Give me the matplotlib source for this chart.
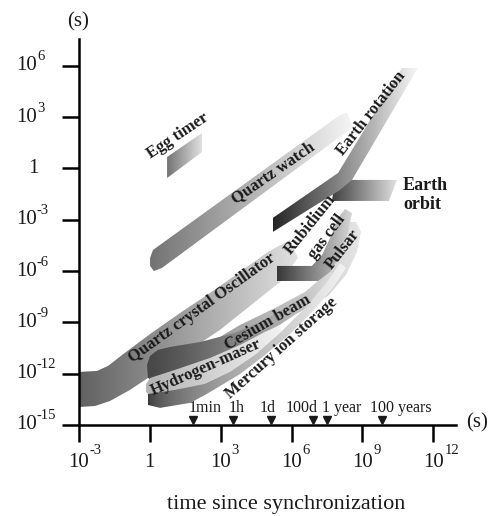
import numpy as np
import matplotlib.pyplot as plt
from matplotlib.patches import Polygon

plt.rcParams['font.family'] = ['Liberation Serif', 'DejaVu Serif']

# axis ticks, log10 of seconds
x_ticks = [-3, 0, 3, 6, 9, 12]
y_ticks = [-15, -12, -9, -6, -3, 0, 3, 6]

# time marks on the x axis (log10 s)
event_names = ['1min', '1h', '1d', '100d', '1 year', '100 years']
event_pos = [1.83, 3.52, 5.13, 6.91, 7.50, 9.83]
event_label_x = [1.66, 3.35, 4.66, 5.76, 7.29, 9.32]

# outlines of each clock region: (log10 time, log10 time error)
egg_timer = [(0.73, 0.67), (2.21, 2.08), (2.21, 0.96), (0.73, -0.56)]
quartz_watch = [(0.01, -5.23), (0.13, -4.77), (0.43, -4.47), (8.05, 3.13), (8.35, 3.25),
                (8.60, 2.43), (8.39, 2.20), (0.51, -5.82), (0.17, -6.0), (0.01, -5.70)]
earth_rotation = [(5.21, -2.89), (7.97, -0.26), (10.67, 5.88), (11.35, 5.88),
                  (8.56, -0.67), (8.05, -1.26), (5.21, -3.71)]
earth_orbit = [(7.84, -0.67), (10.46, -0.67), (10.12, -1.90), (7.71, -1.90)]
quartz_osc = [(-3.00, -11.90), (-2.24, -11.84), (-1.77, -11.55), (-1.18, -10.91), (0.01, -9.68),
              (1.28, -8.45), (2.55, -7.28), (3.82, -6.05), (5.00, -4.88), (5.93, -4.18),
              (6.27, -5.23), (5.51, -6.64), (4.24, -8.04), (2.97, -9.44), (1.70, -10.61),
              (0.43, -11.78), (-0.84, -12.95), (-1.69, -13.60), (-2.32, -13.89), (-3.00, -13.95)]
pulsar = [(8.39, -3.13), (8.73, -3.13), (8.94, -3.71), (8.77, -4.88), (8.30, -6.23),
          (7.54, -7.46), (6.36, -8.39), (4.87, -9.33), (3.39, -10.15), (2.76, -10.03),
          (3.82, -9.15), (5.30, -8.16), (6.57, -7.22), (7.41, -6.23), (7.92, -5.06), (8.18, -4.06)]
rubidium = [(5.38, -5.70), (6.86, -5.70), (7.29, -5.06), (7.67, -3.95), (7.97, -2.89),
            (8.26, -2.37), (8.56, -2.61), (8.39, -3.71), (8.05, -5.06), (7.63, -6.05),
            (7.12, -6.58), (5.38, -6.58)]
cesium = [(-0.12, -11.49), (0.01, -10.96), (0.34, -10.61), (0.85, -10.44), (2.12, -10.15),
          (3.60, -9.62), (4.87, -8.86), (6.14, -7.81), (7.0, -6.93), (7.63, -6.05),
          (7.88, -6.29), (7.41, -7.11), (6.57, -8.16), (5.30, -9.33), (4.03, -10.32),
          (2.55, -11.32), (1.28, -12.08), (0.34, -12.60), (-0.08, -12.25)]
hydrogen = [(-0.16, -12.60), (0.01, -12.25), (1.06, -11.78), (2.55, -11.08), (3.82, -10.32),
            (4.87, -9.56), (5.51, -9.15), (5.59, -9.68), (4.45, -10.96), (3.39, -11.96),
            (2.33, -12.66), (1.06, -13.01), (0.01, -13.30), (-0.16, -13.07)]
mercury = [(-0.08, -13.19), (1.06, -12.95), (2.33, -12.60), (3.39, -11.90), (4.45, -10.91),
           (5.51, -9.62), (6.57, -8.16), (7.41, -6.81), (8.05, -5.53), (8.30, -5.82),
           (7.75, -6.99), (6.91, -8.33), (5.93, -9.68), (4.83, -10.96), (3.82, -12.02),
           (3.05, -12.66), (2.33, -13.25), (1.70, -13.71), (0.43, -14.0), (-0.08, -13.83)]

band_labels = ['Egg timer', 'Quartz watch', 'Earth rotation', 'Rubidium', 'gas cell', 'Pulsar',
               'Quartz crystal Oscillator', 'Cesium beam', 'Hydrogen-maser', 'Mercury ion storage']
label_xy = [(1.19, 1.90), (5.21, -0.26), (9.36, 3.25), (6.78, -3.30), (7.50, -4.01), (8.18, -4.71),
            (2.21, -8.16), (5.0, -9.04), (2.38, -11.61), (5.55, -10.50)]
label_angle = [33.7, 34.6, 52, 51, 53, 52, 35.7, 29.8, 24, 41.7]


def shade(ax, verts, g0, g1, z, gamma=1.0):
    verts = np.array(verts)
    patch = Polygon(verts, closed=True, facecolor='none', edgecolor='none')
    ax.add_patch(patch)
    t = np.linspace(0, 1, 256) ** gamma
    grad = (g0 + (g1 - g0) * t).reshape(1, -1)
    im = ax.imshow(grad, cmap='gray', vmin=0, vmax=1, aspect='auto', origin='lower',
                   extent=(verts[:, 0].min(), verts[:, 0].max(), verts[:, 1].min(), verts[:, 1].max()),
                   interpolation='bilinear', zorder=z)
    im.set_clip_path(patch)


fig = plt.figure(figsize=(4.93, 5.16), dpi=100)
ax = fig.add_axes([0.1602, 0.1764, 0.7647, 0.748])

# back to front
shade(ax, quartz_osc, 0.38, 0.88, 1)
shade(ax, pulsar, 0.6, 0.9, 2)
shade(ax, rubidium, 0.22, 0.85, 3)
shade(ax, cesium, 0.28, 0.88, 4, gamma=1.2)
shade(ax, hydrogen, 0.7, 0.95, 5)
shade(ax, mercury, 0.22, 0.95, 6, gamma=0.6)
shade(ax, egg_timer, 0.45, 0.88, 7)
shade(ax, quartz_watch, 0.45, 0.96, 8)
shade(ax, earth_orbit, 0.25, 0.88, 9)
shade(ax, earth_rotation, 0.15, 0.97, 10)

ax.set_xlim(-3, 12.96)
ax.set_ylim(-15, 7.57)

for s in ['top', 'right']:
    ax.spines[s].set_visible(False)
for s in ['left', 'bottom']:
    ax.spines[s].set_linewidth(1.8)
    ax.spines[s].set_zorder(20)
ax.set_xticks(x_ticks)
ax.set_yticks(y_ticks)
ax.tick_params(direction='out', length=12.5, width=1.8, labelleft=False, labelbottom=False)

txt = '#1a1a1a'
for v in y_ticks:
    base = '1' if v == 0 else '10'
    ax.annotate(base, xy=(0, v), xycoords=('axes fraction', 'data'), xytext=(-40 if v == 0 else -42, 0),
                textcoords='offset pixels', ha='right', va='center', fontsize=15, color=txt)
    if v != 0:
        ax.annotate(str(v), xy=(0, v), xycoords=('axes fraction', 'data'), xytext=(-42, 9),
                    textcoords='offset pixels', ha='left', va='center', fontsize=10.5, color=txt)
for v in x_ticks:
    base = '1' if v == 0 else '10'
    ax.annotate(base, xy=(v, 0), xycoords=('data', 'axes fraction'), xytext=(0, -38),
                textcoords='offset pixels', ha='center', va='center', fontsize=15, color=txt)
    if v != 0:
        ax.annotate(str(v), xy=(v, 0), xycoords=('data', 'axes fraction'), xytext=(11, -26),
                    textcoords='offset pixels', ha='left', va='center', fontsize=10.5, color=txt)

ax.annotate('(s)', xy=(0, 1), xycoords='axes fraction', xytext=(-1, 17), textcoords='offset pixels',
            ha='center', va='center', fontsize=15, color=txt)
ax.annotate('(s)', xy=(1, 0), xycoords='axes fraction', xytext=(21, 2), textcoords='offset pixels',
            ha='center', va='center', fontsize=15, color=txt)
fig.text(286.5 / 493, 1 - 505 / 516, 'time since synchronization', ha='center', va='center',
         fontsize=16, color=txt)

# time marks
xt = ax.get_xaxis_transform()
ax.plot(event_pos, [0.012] * len(event_pos), 'v', color=txt, ms=6, transform=xt, clip_on=False, zorder=21)
for name, lx in zip(event_names, event_label_x):
    ax.text(lx, 0.044, name, transform=xt, ha='left', va='center', fontsize=11.5, color=txt)

for name, (lx, ly), ang in zip(band_labels, label_xy, label_angle):
    ax.text(lx, ly, name, rotation=ang, rotation_mode='anchor', ha='center', va='center',
            fontsize=12, fontweight='bold', color=txt, zorder=30)
ax.text(10.72, -1.55, 'Earth\norbit', ha='left', va='center', fontsize=13, fontweight='bold',
        linespacing=1.1, color=txt, zorder=30)

fig.savefig('out.png', dpi=100)
